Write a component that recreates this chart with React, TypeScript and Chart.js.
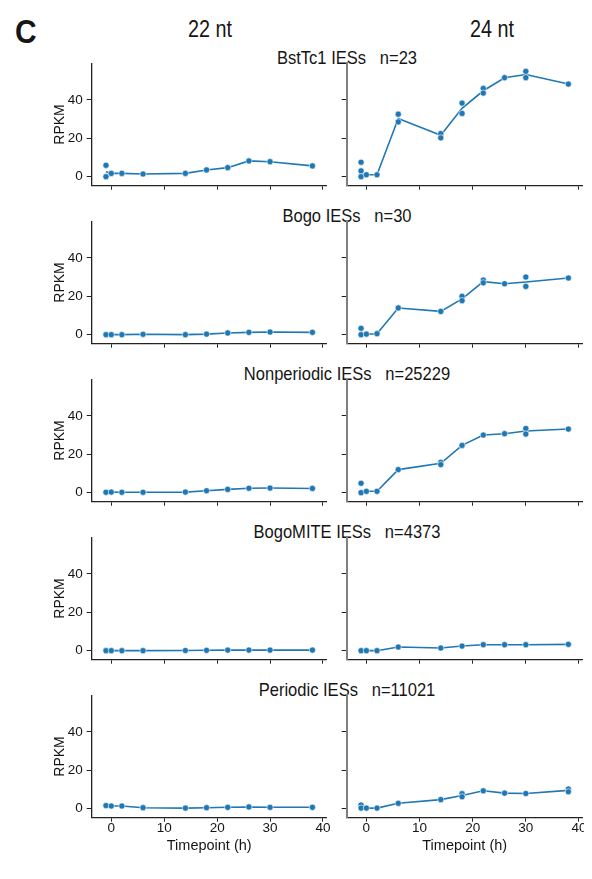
import React, { useEffect, useRef } from "react";
import { Chart, registerables } from "chart.js";

Chart.register(...registerables);

// ---------- data ----------
const timepoints = [-1, 0, 2, 6, 14, 18, 22, 26, 30, 38];
const xTickValues = [0, 10, 20, 30, 40];
const yTickValues = [0, 20, 40];
const columnLabels = ["22 nt", "24 nt"];
const categoryNames = ["BstTc1", "Bogo", "Nonperiodic", "BogoMITE", "Periodic"];
const categoryCounts = [23, 30, 25229, 4373, 11021];
const xAxisLabel = "Timepoint (h)";
const yAxisLabel = "RPKM";

const bst22Mean = [2.6, 1.7, 1.7, 1.4, 1.7, 3.5, 4.7, 8.2, 7.8, 5.6];
const bst22Reps = [[5.9, 0], [1.7], [1.7], [1.4], [1.7], [3.5], [4.7], [8.2], [7.8], [5.6]];
const bst24Mean = [0.9, 1.0, 1.0, 30.3, 21.6, 35.6, 44.7, 51.5, 53.2, 48.2];
const bst24Reps = [[7.5, 3, 0], [1.0], [1.0], [32.5, 28.5], [22.4, 20.2], [38.3, 32.9], [45.9, 43.5], [51.5], [54.8, 51.5], [48.2]];

const bogo22Mean = [0, 0, 0, 0.2, 0, 0.3, 0.9, 1.2, 1.4, 1.2];
const bogo22Reps = [[0], [0], [0], [0.2], [0], [0.3], [0.9], [1.2], [1.4], [1.2]];
const bogo24Mean = [0.3, 0.3, 0.5, 13.9, 12.1, 18.6, 27.6, 26.5, 27.4, 29.5];
const bogo24Reps = [[3.3, 0], [0.3], [0.5], [13.9], [12.1], [20, 17.7], [28.4, 27.0], [26.5], [30, 25.1], [29.5]];

const nonper22Mean = [0.2, 0.3, 0.2, 0.2, 0.3, 1.0, 1.7, 2.3, 2.4, 2.2];
const nonper22Reps = [[0.2], [0.3], [0.2], [0.2], [0.3], [1.0], [1.7], [2.3], [2.4], [2.2]];
const nonper24Mean = [0.5, 0.7, 0.7, 12.0, 15.3, 24.6, 30.0, 30.7, 32.1, 33.1];
const nonper24Reps = [[4.9, 0], [0.7], [0.7], [12.0], [15.8, 14.6], [24.6], [30.0], [30.7], [33.4, 30.5], [33.1]];

const mite22Mean = [0, 0, 0, 0, 0.1, 0.2, 0.3, 0.3, 0.3, 0.3];
const mite22Reps = [[0], [0], [0], [0], [0.1], [0.2], [0.3], [0.3], [0.3], [0.3]];
const mite24Mean = [0, 0, 0, 1.9, 1.4, 2.4, 3.1, 3.1, 3.1, 3.3];
const mite24Reps = [[0], [0], [0], [1.9], [1.4], [2.4], [3.1], [3.1], [3.1], [3.3]];

const per22Mean = [1.6, 1.4, 1.4, 0.5, 0.3, 0.5, 0.7, 0.9, 0.7, 0.7];
const per22Reps = [[1.6], [1.4], [1.4], [0.5], [0.3], [0.5], [0.7], [0.9], [0.7], [0.7]];
const per24Mean = [0.9, 0.3, 0.3, 2.8, 4.7, 6.9, 9.3, 8.1, 7.9, 9.5];
const per24Reps = [[1.9, 0.3], [0.3], [0.3], [2.8], [4.7], [7.8, 6.2], [9.3], [8.1], [7.9], [10.2, 8.8]];

const panelMeans = [
  [bst22Mean, bst24Mean],
  [bogo22Mean, bogo24Mean],
  [nonper22Mean, nonper24Mean],
  [mite22Mean, mite24Mean],
  [per22Mean, per24Mean],
];
const panelReps = [
  [bst22Reps, bst24Reps],
  [bogo22Reps, bogo24Reps],
  [nonper22Reps, nonper24Reps],
  [mite22Reps, mite24Reps],
  [per22Reps, per24Reps],
];

// ---------- style / layout ----------
const BLUE = "#1f77b4";
const TEXT = "#151515";
const FONT = "'Liberation Sans Narrow', 'Arial Narrow', 'Liberation Sans', Arial, sans-serif";
const X_MIN = -3.7;
const X_MAX = 40.7;
const Y_MIN = -4.7;
const Y_MAX = 59;

const ROW_STEP = 158;
const CANVAS_TOP0 = 49;
const CANVAS_H = 174;
const PAD_TOP = 14.3;
const PLOT_H = 122.4;
const X_BOX_H = 37;

const COLS = [
  { left: 50, width: 290, padLeft: 1.5, yWidth: 40.2, padRight: 13.3 },
  { left: 340, width: 252, padLeft: 0, yWidth: 6.7, padRight: 9.3 },
];

function Panel({ row, col }: { row: number; col: number }) {
  const ref = useRef<HTMLCanvasElement | null>(null);
  useEffect(() => {
    const canvas = ref.current;
    if (!canvas) return;
    const means = panelMeans[row][col];
    const reps = panelReps[row][col];
    const isBottom = row === panelMeans.length - 1;
    const isLeft = col === 0;
    const c = COLS[col];
    const meanPts = timepoints.map((t, i) => ({ x: t, y: means[i] }));
    const repPts: { x: number; y: number }[] = [];
    timepoints.forEach((t, i) => reps[i].forEach((v) => repPts.push({ x: t, y: v })));

    const chart = new Chart(canvas, {
      type: "line",
      data: {
        datasets: [
          {
            data: repPts,
            showLine: false,
            pointRadius: 3.1,
            pointBackgroundColor: BLUE,
            pointBorderColor: "#ffffff",
            pointBorderWidth: 0.6,
            order: 0,
          } as any,
          {
            data: meanPts,
            borderColor: BLUE,
            borderWidth: 1.6,
            pointRadius: 0,
            tension: 0,
            fill: false,
            order: 1,
          } as any,
        ],
      },
      options: {
        responsive: false,
        animation: false,
        events: [],
        layout: {
          padding: {
            top: PAD_TOP,
            bottom: CANVAS_H - PAD_TOP - PLOT_H - X_BOX_H,
            left: c.padLeft,
            right: c.padRight,
          },
        },
        plugins: { legend: { display: false }, tooltip: { enabled: false } },
        scales: {
          x: {
            type: "linear",
            min: X_MIN,
            max: X_MAX,
            afterBuildTicks: (s: any) => {
              s.ticks = xTickValues.map((v) => ({ value: v }));
            },
            afterFit: (s: any) => {
              s.height = X_BOX_H;
            },
            grid: {
              display: true,
              drawOnChartArea: false,
              drawTicks: true,
              tickLength: 4,
              tickColor: "#222",
              tickWidth: 1,
            },
            border: { display: true, color: "#222", width: 1.3 },
            ticks: {
              autoSkip: false,
              maxRotation: 0,
              padding: -2,
              color: TEXT,
              font: { family: FONT, size: 13.5 },
              callback: (v: any) => (isBottom ? String(v) : ""),
            },
            title: {
              display: isBottom,
              text: xAxisLabel,
              color: TEXT,
              font: { family: FONT, size: 14.5 },
              padding: { top: 0, bottom: 0.5 },
            },
          },
          y: {
            type: "linear",
            min: Y_MIN,
            max: Y_MAX,
            afterBuildTicks: (s: any) => {
              s.ticks = yTickValues.map((v) => ({ value: v }));
            },
            afterFit: (s: any) => {
              s.width = c.yWidth;
            },
            grid: {
              display: true,
              drawOnChartArea: false,
              drawTicks: true,
              tickLength: 5,
              tickColor: "#222",
              tickWidth: 1,
            },
            border: isLeft
              ? { display: true, color: "#222", width: 1.3 }
              : { display: true, color: "#808080", width: 2 },
            ticks: {
              autoSkip: false,
              padding: 4,
              color: TEXT,
              font: { family: FONT, size: 13.5 },
              callback: (v: any) => (isLeft ? String(v) : ""),
            },
            title: {
              display: isLeft,
              text: yAxisLabel,
              color: TEXT,
              font: { family: FONT, size: 14 },
              padding: 0,
            },
          },
        },
      } as any,
    });
    return () => chart.destroy();
  }, [row, col]);

  const c = COLS[col];
  return (
    <canvas
      ref={ref}
      width={c.width}
      height={CANVAS_H}
      style={{
        position: "absolute",
        left: c.left,
        top: CANVAS_TOP0 + row * ROW_STEP,
        width: c.width,
        height: CANVAS_H,
      }}
    />
  );
}

const headerCenters = [210, 492];

export default function App() {
  return (
    <div
      style={{
        position: "relative",
        width: 592,
        height: 879,
        margin: -8,
        background: "#ffffff",
        overflow: "hidden",
        fontFamily: FONT,
        color: TEXT,
      }}
    >
      <div
        style={{
          position: "absolute",
          left: 2,
          top: 12,
          width: 2,
          height: 880,
          background: "#333",
        }}
      />
      <div
        style={{
          position: "absolute",
          left: 15,
          top: 13.8,
          fontSize: 34,
          lineHeight: 1,
          fontWeight: "bold",
          transform: "scaleX(0.88)",
          transformOrigin: "left center",
        }}
      >
        C
      </div>
      {columnLabels.map((lab, i) => (
        <div
          key={lab}
          style={{
            position: "absolute",
            left: headerCenters[i],
            top: 17.7,
            fontSize: 23,
            lineHeight: 1,
            transform: "translateX(-50%) scaleX(0.86)",
            whiteSpace: "pre",
          }}
        >
          {lab}
        </div>
      ))}
      {categoryNames.map((name, r) => (
        <div
          key={name}
          style={{
            position: "absolute",
            left: 347,
            top: 47.5 + r * ROW_STEP,
            fontSize: 19,
            lineHeight: 1,
            transform: "translateX(-50%) scaleX(0.87)",
            whiteSpace: "pre",
          }}
        >
          {`${name} IESs   n=${categoryCounts[r]}`}
        </div>
      ))}
      {panelMeans.map((_, r) =>
        [0, 1].map((cIdx) => <Panel key={`${r}-${cIdx}`} row={r} col={cIdx} />)
      )}
    </div>
  );
}
